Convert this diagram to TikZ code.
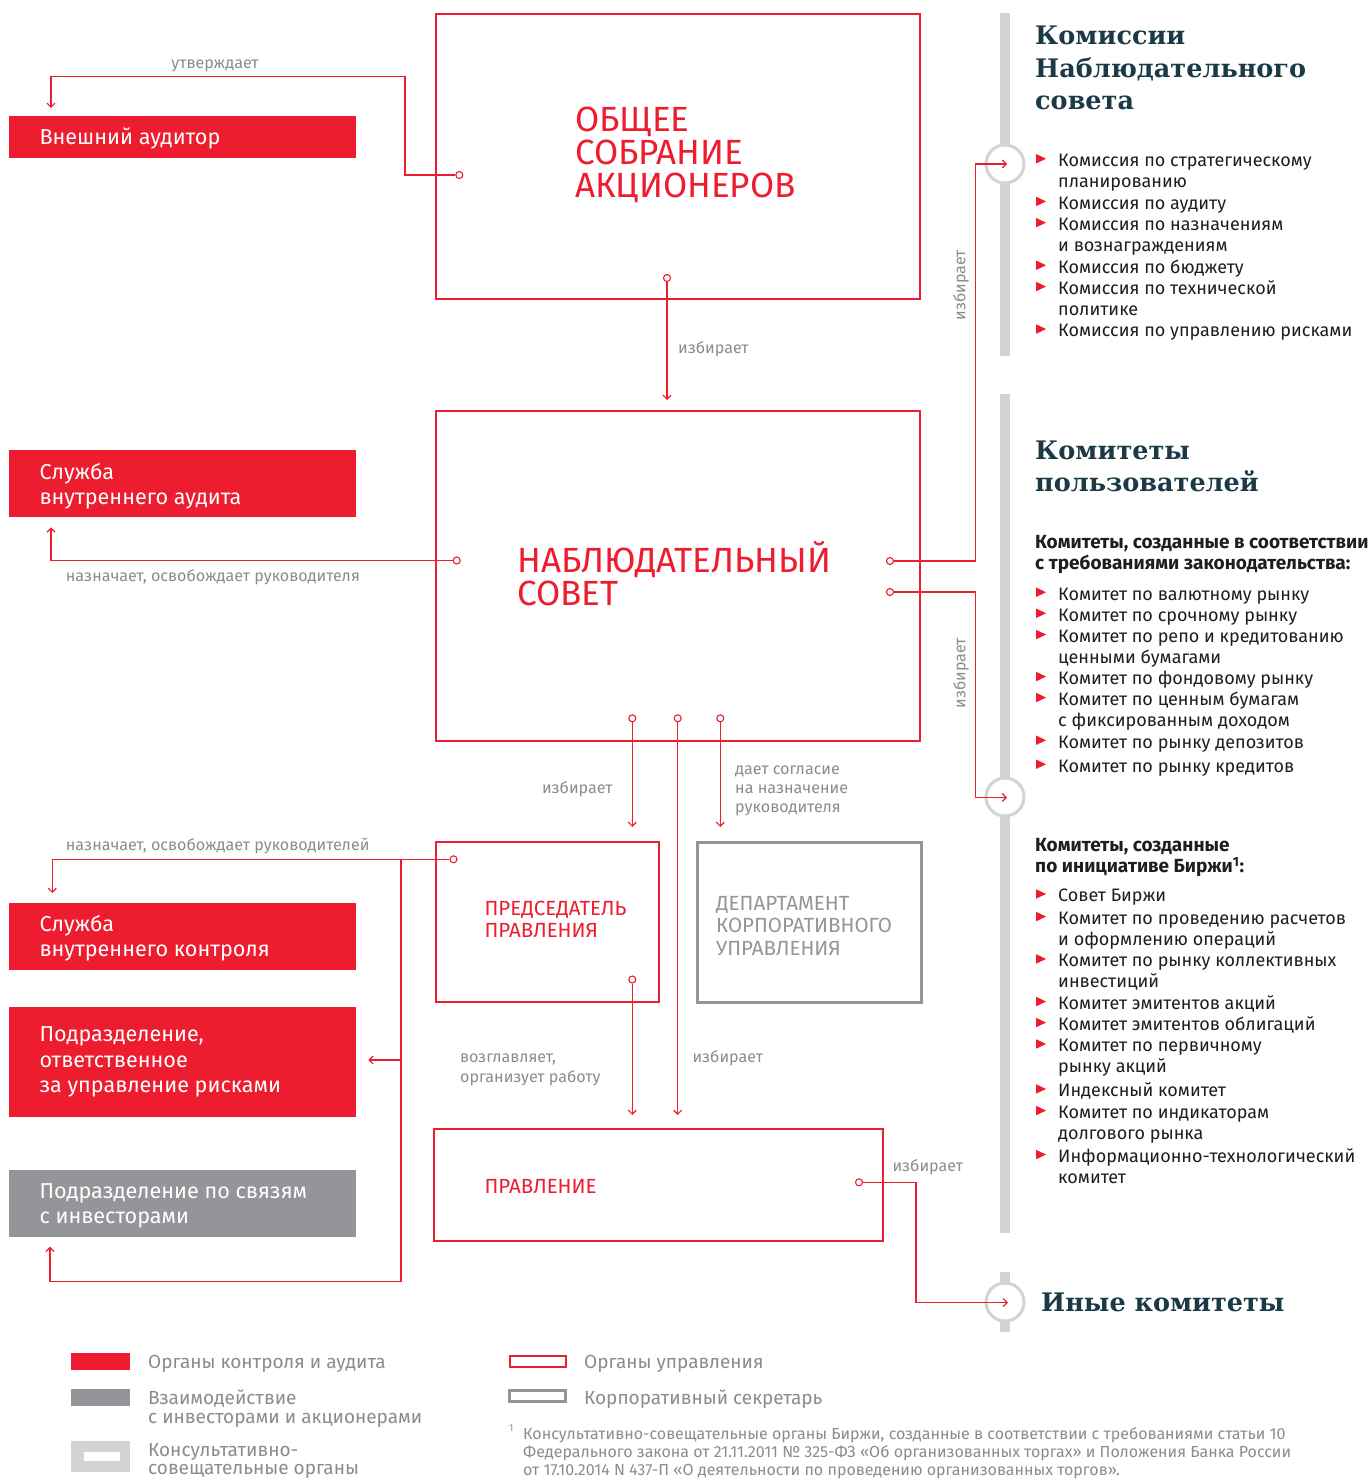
\documentclass[tikz,border=0pt]{standalone}
\usepackage{fontspec}
\setmainfont{Fira Sans}
\newfontfamily\headserif{DejaVu Serif}
\usetikzlibrary{arrows.meta}
\definecolor{mred}{RGB}{237,28,46}
\definecolor{mgray}{RGB}{147,149,152}
\definecolor{lgray}{RGB}{209,211,212}
\definecolor{lbltxt}{RGB}{140,140,140}
\definecolor{dhead}{RGB}{27,58,70}
\definecolor{ltxt}{RGB}{30,30,30}
\newcommand\setfs[2]{\fontsize{#1pt}{#2pt}\selectfont}
\tikzset{
  mbox/.style={draw=mred, line width=2pt, inner sep=0pt},
  gbox/.style={draw=mgray, line width=3pt, inner sep=0pt},
  redfill/.style={fill=mred, inner sep=0pt, minimum width=347pt},
  grayfill/.style={fill=mgray, inner sep=0pt, minimum width=347pt},
  conn/.style={draw=mred, line width=1.2pt},
  arrowed/.style={-{Straight Barb[length=4pt,width=8pt]}},
  cdot/.style={circle, draw=mred, fill=white, line width=1.1pt, inner sep=0pt, minimum size=7pt},
  hubring/.style={circle, draw=lgray, fill=white, line width=3pt, inner sep=0pt, minimum size=38pt},
  lbl/.style={text=lbltxt, font=\setfs{16.1}{19.5}, inner sep=0pt, anchor=base west},
  wtxt/.style={text=white, font=\setfs{21.6}{25}, anchor=base west, inner sep=0pt},
  bigred/.style={text=mred, font=\setfs{35}{33}, anchor=base west, inner sep=0pt},
  medred/.style={text=mred, font=\setfs{20.5}{22}, anchor=base west, inner sep=0pt},
  medgray/.style={text=mgray, font=\setfs{20.5}{22}, anchor=base west, inner sep=0pt},
  hd/.style={text=dhead, font=\headserif\bfseries\setfs{25.5}{32}, anchor=base west, inner sep=0pt},
  litem/.style={text=ltxt, font=\setfs{18}{21}, anchor=base west, inner sep=0pt},
  subh/.style={text=ltxt, font=\bfseries\setfs{19}{21}, anchor=base west, inner sep=0pt},
  leg/.style={text=lbltxt, font=\setfs{19}{19}, anchor=base west, inner sep=0pt},
  foot/.style={text=lbltxt, font=\setfs{16}{18}, anchor=base west, inner sep=0pt},
}
\begin{document}
\begin{tikzpicture}[x=1pt,y=-1pt]
\useasboundingbox[fill=white] (0,0) rectangle (1372,1479);

% ---------- right column bars and rings
\fill[lgray] (1000,13) rectangle (1010,356);
\fill[lgray] (1000,394) rectangle (1010,1233);
\fill[lgray] (1000,1272) rectangle (1010,1332);
\node[hubring] (ring1) at (1005,164) {};
\node[hubring] (ring2) at (1005,797) {};
\node[hubring] (ring3) at (1005,1302) {};

% ---------- main boxes
\node[mbox, minimum width=484pt, minimum height=285pt] (gsm) at (678,156.5) {};
\node[mbox, minimum width=484pt, minimum height=330pt] (ns) at (678,576) {};
\node[mbox, minimum width=223pt, minimum height=159.5pt] (pred) at (547.5,921.75) {};
\node[gbox, minimum width=224pt, minimum height=160pt] (dept) at (809,922) {};
\node[mbox, minimum width=448.5pt, minimum height=112pt] (prav) at (658.25,1185) {};

\node[bigred] (gsmt1) at (575,132) {ОБЩЕЕ};
\node[bigred] (gsmt2) at (575,165) {СОБРАНИЕ};
\node[bigred] (gsmt3) at (575,198) {АКЦИОНЕРОВ};
\node[bigred] (nst1) at (517,572) {НАБЛЮДАТЕЛЬНЫЙ};
\node[bigred] (nst2) at (517,605) {СОВЕТ};
\node[medred] (predt1) at (484.3,915) {ПРЕДСЕДАТЕЛЬ};
\node[medred] (predt2) at (484.3,937.3) {ПРАВЛЕНИЯ};
\node[medgray] (deptt1) at (716,910) {ДЕПАРТАМЕНТ};
\node[medgray] (deptt2) at (716,932.3) {КОРПОРАТИВНОГО};
\node[medgray] (deptt3) at (716,955) {УПРАВЛЕНИЯ};
\node[medred] (pravt) at (484.3,1193) {ПРАВЛЕНИЕ};

% ---------- left boxes
\node[redfill, minimum height=42pt] (ext) at (182.5,137) {};
\node[wtxt] (extt) at (39.3,145) {Внешний аудитор};
\node[redfill, minimum height=66.7pt] (sva) at (182.5,483.3) {};
\node[wtxt] (svat1) at (39.3,479.3) {Служба};
\node[wtxt] (svat2) at (39.3,504) {внутреннего аудита};
\node[redfill, minimum height=66.7pt] (svk) at (182.5,936.7) {};
\node[wtxt] (svkt1) at (39.3,931.7) {Служба};
\node[wtxt] (svkt2) at (39.3,956.7) {внутреннего контроля};
\node[redfill, minimum height=110pt] (risk) at (182.5,1061.7) {};
\node[wtxt] (riskt1) at (39.3,1041.7) {Подразделение,};
\node[wtxt] (riskt2) at (39.3,1067.3) {ответственное};
\node[wtxt] (riskt3) at (39.3,1092.9) {за управление рисками};
\node[grayfill, minimum height=66.7pt] (ir) at (182.5,1203.3) {};
\node[wtxt] (irt1) at (39.3,1198.3) {Подразделение по связям};
\node[wtxt] (irt2) at (39.3,1223.3) {с инвесторами};

% ---------- connector dots
\node[cdot] (d1) at (459.3,175) {};
\node[cdot] (d2) at (667,278) {};
\node[cdot] (d3) at (456.7,560.5) {};
\node[cdot] (d4) at (890,561) {};
\node[cdot] (d5) at (890,592) {};
\node[cdot] (d6) at (632.3,718.3) {};
\node[cdot] (d7) at (677.7,718.3) {};
\node[cdot] (d8) at (720.3,718.3) {};
\node[cdot] (d9) at (453.5,859.3) {};
\node[cdot] (d10) at (632.3,979.5) {};
\node[cdot] (d11) at (859,1182.3) {};

% ---------- bend points and ends
\coordinate (a1) at (405,175);
\coordinate (a2) at (405,76.7);
\coordinate (a3) at (51,76.7);
\coordinate (e1) at (51,108);
\coordinate (e2) at (667,400);
\coordinate (a4) at (51,560.5);
\coordinate (e3) at (51,527.3);
\coordinate (a5) at (975.5,561);
\coordinate (a6) at (975.5,164);
\coordinate (e4) at (1007,164);
\coordinate (a7) at (975.5,592);
\coordinate (a8) at (975.5,797.5);
\coordinate (e5) at (1007,797.5);
\coordinate (e6) at (632.3,827);
\coordinate (e7) at (720.3,827);
\coordinate (e8) at (677.7,1115);
\coordinate (a9) at (52.3,859.3);
\coordinate (e9) at (52.3,893);
\coordinate (a10) at (401,859.3);
\coordinate (a11) at (401,1281.7);
\coordinate (a12) at (50,1281.7);
\coordinate (e10) at (50,1246.7);
\coordinate (a13) at (401,1060);
\coordinate (e11) at (368.3,1060);
\coordinate (e12) at (632.3,1115);
\coordinate (a14) at (916,1182.3);
\coordinate (a15) at (916,1302.5);
\coordinate (e13) at (1008,1302.5);

\draw[conn, arrowed] (d1) -- (a1) -- (a2) -- (a3) -- (e1);
\draw[conn, arrowed] (d2) -- (e2);
\draw[conn, arrowed] (d3) -- (a4) -- (e3);
\draw[conn, arrowed] (d4) -- (a5) -- (a6) -- (e4);
\draw[conn, arrowed] (d5) -- (a7) -- (a8) -- (e5);
\draw[conn, arrowed] (d6) -- (e6);
\draw[conn, arrowed] (d8) -- (e7);
\draw[conn, arrowed] (d7) -- (e8);
\draw[conn, arrowed] (d9) -- (a9) -- (e9);
\draw[conn, arrowed] (a10) -- (a11) -- (a12) -- (e10);
\draw[conn, arrowed] (a13) -- (e11);
\draw[conn, arrowed] (d10) -- (e12);
\draw[conn, arrowed] (d11) -- (a14) -- (a15) -- (e13);

% ---------- connector labels
\node[lbl, anchor=base] (l1) at (215,68.3) {утверждает};
\node[lbl] (l2) at (678,353.5) {избирает};
\node[lbl] (l3) at (65.7,581.7) {назначает, освобождает руководителя};
\node[lbl, rotate=90, anchor=center] (l4) at (961,285) {избирает};
\node[lbl, rotate=90, anchor=center] (l5) at (961,673) {избирает};
\node[lbl, anchor=base east] (l6) at (612.7,793.3) {избирает};
\node[lbl] (l7a) at (735,774) {дает согласие};
\node[lbl] (l7b) at (735,793.3) {на назначение};
\node[lbl] (l7c) at (735,812.3) {руководителя};
\node[lbl] (l8) at (65.7,850) {назначает, освобождает руководителей};
\node[lbl] (l9a) at (460,1062.7) {возглавляет,};
\node[lbl] (l9b) at (460,1082.7) {организует работу};
\node[lbl] (l10) at (692.3,1062.7) {избирает};
\node[lbl] (l11) at (892.3,1171.7) {избирает};

% ---------- right column headings
\node[hd] (h1a) at (1035,45) {Комиссии};
\node[hd] (h1b) at (1035,77.3) {Наблюдательного};
\node[hd] (h1c) at (1035,109.3) {совета};
\node[hd] (h2a) at (1035,459.3) {Комитеты};
\node[hd] (h2b) at (1035,491) {пользователей};
\node[hd] (h3) at (1041,1311) {Иные комитеты};

\node[subh] (s1a) at (1035,548.3) {Комитеты, созданные в соответствии};
\node[subh] (s1b) at (1035,569.3) {с требованиями законодательства:};
\node[subh] (s2a) at (1035,851.7) {Комитеты, созданные};
\node[subh] (s2b) at (1035,872.7) {по инициативе Биржи\textsuperscript{1}:};

\foreach \y/\b/\t [count=\i] in {
  166.5/1/Комиссия по стратегическому,
  187.8/0/планированию,
  209.2/1/Комиссия по аудиту,
  230.4/1/Комиссия по назначениям,
  251.6/0/и вознаграждениям,
  273/1/Комиссия по бюджету,
  294.3/1/Комиссия по технической,
  315.5/0/политике,
  336.8/1/Комиссия по управлению рисками,
  600/1/Комитет по валютному рынку,
  621/1/Комитет по срочному рынку,
  642.3/1/Комитет по репо и кредитованию,
  663.3/0/ценными бумагами,
  684.3/1/Комитет по фондовому рынку,
  705.3/1/Комитет по ценным бумагам,
  726.5/0/с фиксированным доходом,
  748/1/Комитет по рынку депозитов,
  772/1/Комитет по рынку кредитов,
  901.7/1/Совет Биржи,
  924.3/1/Комитет по проведению расчетов,
  945.3/0/и оформлению операций,
  966.7/1/Комитет по рынку коллективных,
  987.7/0/инвестиций,
  1009.3/1/Комитет эмитентов акций,
  1030.3/1/Комитет эмитентов облигаций,
  1051.7/1/Комитет по первичному,
  1072.7/0/рынку акций,
  1096.7/1/Индексный комитет,
  1118.3/1/Комитет по индикаторам,
  1139.3/0/долгового рынка,
  1162.3/1/Информационно-технологический,
  1183.3/0/комитет}{
  \node[litem] (it\i) at (1058,\y) {\t};
  \ifnum\b=1 \fill[mred] (1036,\y-12.5) -- (1046,\y-7.75) -- (1036,\y-3) -- cycle; \fi
}

% ---------- legend
\fill[mred] (71,1353) rectangle (130,1370);
\node[leg] (lg1) at (148,1368) {Органы контроля и аудита};
\fill[mgray] (71,1389) rectangle (130,1406);
\node[leg] (lg2a) at (148,1404) {Взаимодействие};
\node[leg] (lg2b) at (148,1423) {с инвесторами и акционерами};
\fill[lgray] (71,1441) rectangle (130,1472);
\fill[white] (84,1452) rectangle (120,1461);
\node[leg] (lg3a) at (148,1456.5) {Консультативно-};
\node[leg] (lg3b) at (148,1474.5) {совещательные органы};
\draw[mred, line width=2pt] (509.5,1356) rectangle (565.5,1367);
\node[leg] (lg4) at (584,1368) {Органы управления};
\draw[mgray, line width=3pt] (509.5,1390) rectangle (565.5,1401);
\node[leg] (lg5) at (584,1404) {Корпоративный секретарь};
\node[foot, font=\setfs{10}{12}] (fn0) at (509,1431) {1};
\node[foot] (fn1) at (523,1439) {Консультативно-совещательные органы Биржи, созданные в соответствии с требованиями статьи 10};
\node[foot] (fn2) at (523,1457.5) {Федерального закона от 21.11.2011 № 325-ФЗ «Об организованных торгах» и Положения Банка России};
\node[foot] (fn3) at (523,1475.5) {от 17.10.2014 N 437-П «О деятельности по проведению организованных торгов».};
\end{tikzpicture}
\end{document}
